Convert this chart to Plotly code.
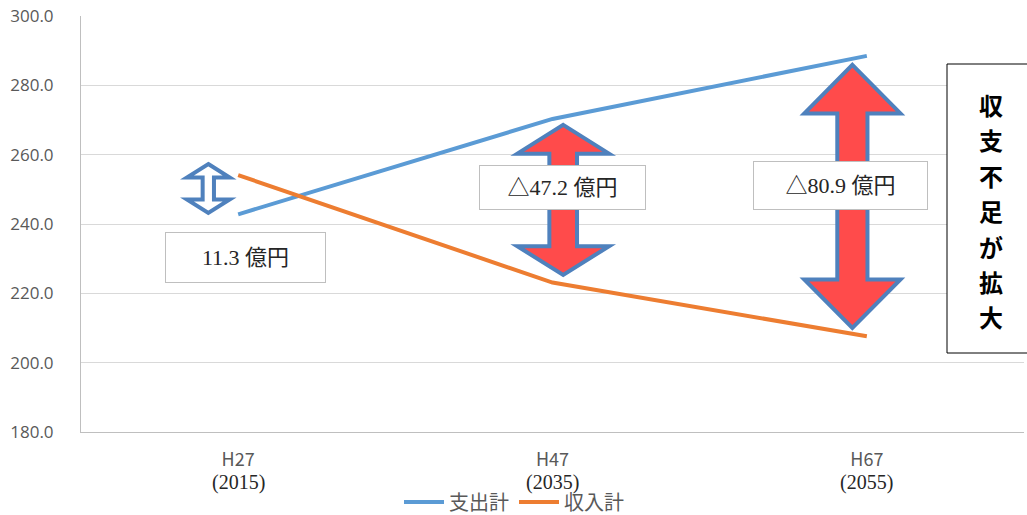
import plotly.graph_objects as go

# Categories and series values (億円)
categories = ["H27", "H47", "H67"]
years = ["(2015)", "(2035)", "(2055)"]
spending = [242.8, 270.3, 288.5]   # 支出計
income = [254.1, 223.1, 207.6]     # 収入計
gap_labels = ["11.3 億円", "△47.2 億円", "△80.9 億円"]
callout = "収支不足が拡大"

BLUE = "#5B9BD5"
ORANGE = "#ED7D31"
ARROW_EDGE = "#4F81BD"
GRAY_TXT = "#595959"

# pixel geometry of the plotting area
PLOT_L, PLOT_R, PLOT_T, PLOT_B = 81, 1024, 16, 432
H = 515


def py(pixel_y):
    """Convert a figure pixel row into paper coordinates."""
    return (PLOT_B - pixel_y) / (PLOT_B - PLOT_T)


def px(pixel_x):
    return (pixel_x - PLOT_L) / (PLOT_R - PLOT_L)


x_idx = list(range(len(categories)))

fig = go.Figure()
fig.add_trace(go.Scatter(x=x_idx, y=spending, mode="lines", name="支出計",
                         line=dict(color=BLUE, width=4)))
fig.add_trace(go.Scatter(x=x_idx, y=income, mode="lines", name="収入計",
                         line=dict(color=ORANGE, width=4)))


def double_arrow(xc, ytop, ybot, hw, sw, hh):
    """Vertical double-headed block arrow as an SVG path in data units."""
    pts = [
        (xc, ytop), (xc + hw, ytop - hh), (xc + sw, ytop - hh),
        (xc + sw, ybot + hh), (xc + hw, ybot + hh), (xc, ybot),
        (xc - hw, ybot + hh), (xc - sw, ybot + hh), (xc - sw, ytop - hh),
        (xc - hw, ytop - hh),
    ]
    return "M " + " L ".join(f"{a},{b}" for a, b in pts) + " Z"


shapes = [
    # small gap arrow at H27 (outline only)
    dict(type="path", xref="x", yref="y",
         path=double_arrow(-0.095, 257.3, 243.2, 0.068, 0.018, 3.9),
         fillcolor="white", line=dict(color=ARROW_EDGE, width=4)),
    # widening gap arrows
    dict(type="path", xref="x", yref="y",
         path=double_arrow(1.034, 268.6, 225.3, 0.146, 0.044, 8.3),
         fillcolor="#FF4B4B", line=dict(color=ARROW_EDGE, width=4)),
    dict(type="path", xref="x", yref="y",
         path=double_arrow(1.954, 285.9, 210.0, 0.153, 0.048, 14.0),
         fillcolor="#FF4B4B", line=dict(color=ARROW_EDGE, width=4)),
    # callout frame on the right
    dict(type="rect", xref="paper", yref="paper",
         x0=px(947), x1=px(1040), y0=py(353), y1=py(64),
         fillcolor="white", line=dict(color="#000000", width=1)),
]

serif = "Liberation Serif, Noto Sans CJK JP, serif"
box_font = dict(family=serif, size=22, color="#262626")
box_style = dict(showarrow=False, font=box_font, bgcolor="white",
                 bordercolor="#BFBFBF", borderwidth=1, borderpad=2,
                 xref="x", yref="y")
annotations = [
    dict(x=0.024, y=230.3, text=gap_labels[0], width=155, height=45, **box_style),
    dict(x=1.032, y=250.5, text=gap_labels[1], width=161, height=39, **box_style),
    dict(x=1.916, y=251.1, text=gap_labels[2], width=169, height=43, **box_style),
]
# vertical callout text, one character per row
for i, ch in enumerate(callout):
    annotations.append(dict(
        x=px(991), y=py(104.5 + i * 35.4), xref="paper", yref="paper",
        text=ch, showarrow=False, xanchor="center", yanchor="middle",
        borderpad=0,
        font=dict(family="Noto Sans CJK JP", size=24, color="#000000",
                  weight="bold")))
for i, yr in enumerate(years):
    annotations.append(dict(x=i, y=py(483), xref="x", yref="paper",
                            text=yr, showarrow=False, yanchor="middle",
                            font=dict(family=serif, size=20, color="#262626")))

fig.update_layout(
    width=1027, height=H,
    margin=dict(l=PLOT_L, r=1027 - PLOT_R, t=PLOT_T, b=H - PLOT_B),
    paper_bgcolor="white", plot_bgcolor="white",
    showlegend=True,
    legend=dict(orientation="h", xref="container", yref="container",
                x=514 / 1027, xanchor="center",
                y=(H - 502) / H, yanchor="middle",
                font=dict(family="Noto Sans CJK JP", size=20, color=GRAY_TXT),
                itemwidth=40, tracegroupgap=0),
    shapes=shapes,
    annotations=annotations,
)
fig.update_xaxes(range=[-0.5, 2.5], tickvals=x_idx, ticktext=categories,
                 showgrid=False, zeroline=False, showline=True,
                 linecolor="#BFBFBF", linewidth=1, ticks="",
                 ticklabelstandoff=11,
                 tickfont=dict(family="Noto Sans CJK JP", size=18, color=GRAY_TXT))
fig.update_yaxes(range=[180, 300], dtick=20, tick0=180, tickformat=".1f",
                 showgrid=True, gridcolor="#D9D9D9", gridwidth=1,
                 zeroline=False, showline=True, linecolor="#BFBFBF", linewidth=1,
                 ticks="", ticklabelstandoff=23,
                 tickfont=dict(family="Open Sans", size=17, color=GRAY_TXT))

fig.write_html("out.html")
